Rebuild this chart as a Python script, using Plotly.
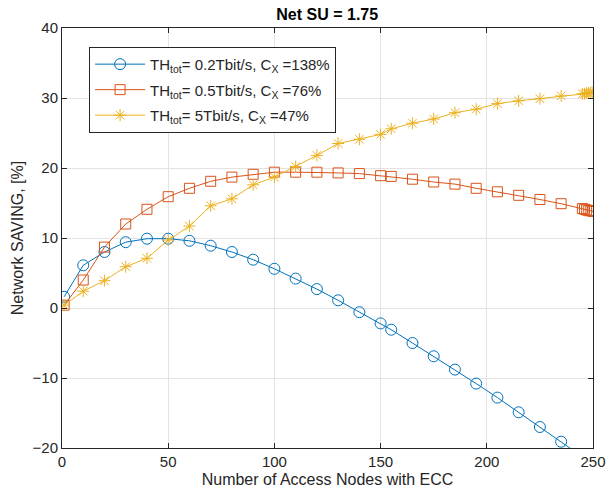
import plotly.graph_objects as go

x_nodes = [1, 10, 20, 30, 40, 50, 60, 70, 80, 90, 100, 110, 120, 130, 140, 150,
           155, 165, 175, 185, 195, 205, 215, 225, 235, 245, 246, 247, 248, 249, 250]

saving_02 = [1.6, 6.1, 8.0, 9.4, 9.9, 9.9, 9.6, 8.9, 8.0, 6.9, 5.6, 4.2, 2.7, 1.1, -0.6, -2.2,
             -3.1, -5.0, -6.9, -8.8, -10.8, -12.8, -14.9, -17.0, -19.1, -21.3, -21.5, -21.7, -21.9, -22.1, -22.3]
saving_05 = [0.4, 4.0, 8.7, 12.0, 14.1, 15.9, 17.1, 18.1, 18.7, 19.1, 19.4, 19.4, 19.4, 19.3, 19.2, 18.9,
             18.8, 18.4, 18.0, 17.7, 17.1, 16.6, 16.1, 15.5, 14.9, 14.2, 14.1, 14.0, 13.9, 13.9, 13.8]
saving_5 = [0.4, 2.4, 3.9, 5.9, 7.1, 9.7, 11.7, 14.6, 15.6, 17.6, 18.7, 20.2, 21.8, 23.5, 24.1, 24.8,
            25.6, 26.4, 27.0, 27.9, 28.4, 29.2, 29.6, 29.9, 30.3, 30.6, 30.6, 30.7, 30.7, 30.8, 30.8]

names = ["TH<sub>tot</sub>= 0.2Tbit/s, C<sub>X</sub> =138%",
         "TH<sub>tot</sub>= 0.5Tbit/s, C<sub>X</sub> =76%",
         "TH<sub>tot</sub>= 5Tbit/s, C<sub>X</sub> =47%"]
colors = ["#0072BD", "#D95319", "#EDB120"]
symbols = ["circle-open", "square-open", "asterisk-open"]
sizes = [11, 10, 10]
series = [saving_02, saving_05, saving_5]

fig = go.Figure()
for i, (name, ys, c, s, sz) in enumerate(zip(names, series, colors, symbols, sizes)):
    fig.add_trace(go.Scatter(
        x=x_nodes, y=ys, name=name, mode="lines+markers", legendgroup=f"g{i}",
        line=dict(color=c, width=1),
        marker=dict(symbol=s, size=sz, color=c, line=dict(color=c, width=1)),
    ))

font_fam = "Liberation Sans, Arial"
axis_common = dict(
    showline=True, linecolor="#262626", linewidth=1, mirror="ticks",
    ticks="inside", ticklen=5, tickcolor="#262626",
    showgrid=True, gridcolor="#e3e3e3", gridwidth=1,
    zeroline=False, automargin=False,
    tickfont=dict(family=font_fam, size=15, color="#262626"),
)

fig.update_xaxes(range=[0, 250], tickvals=[0, 50, 100, 150, 200, 250],
                 title=dict(text="Number of Access Nodes with ECC",
                            font=dict(family=font_fam, size=16, color="#262626"),
                            standoff=4),
                 **axis_common)
fig.update_yaxes(range=[-20, 40], tickvals=[-20, -10, 0, 10, 20, 30, 40],
                 title=dict(text="Network SAVING, [%]",
                            font=dict(family=font_fam, size=16, color="#262626"),
                            standoff=4),
                 **axis_common)

fig.update_layout(
    width=606, height=501,
    margin=dict(l=62, r=13, t=28, b=53, autoexpand=False),
    plot_bgcolor="white", paper_bgcolor="white",
    title=dict(text="<b>Net SU = 1.75</b>", x=0.54, xanchor="center", y=0.971, yanchor="middle",
               font=dict(family=font_fam, size=16, color="black")),
    legend=dict(x=0.051, y=0.955, xanchor="left", yanchor="top",
                bgcolor="white", bordercolor="#262626", borderwidth=1,
                font=dict(family=font_fam, size=15, color="#262626"),
                itemwidth=50, tracegroupgap=3),
    showlegend=True,
)

fig.write_html("out.html", config={"displayModeBar": False},
               post_script="document.body.style.margin='0';")
